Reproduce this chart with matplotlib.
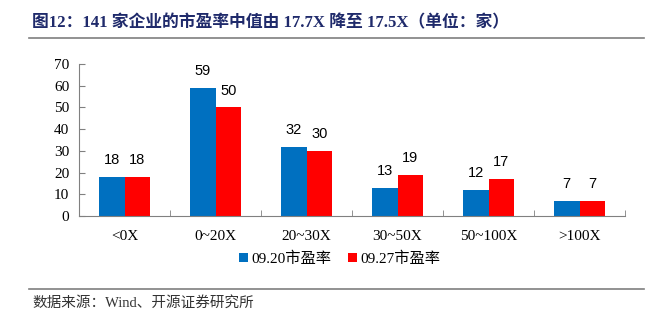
import matplotlib
matplotlib.use("Agg")
import matplotlib.pyplot as plt
import numpy as np
from matplotlib.lines import Line2D

categories = ["<0X", "0~20X", "20~30X", "30~50X", "50~100X", ">100X"]
pe_0920 = [18, 59, 32, 13, 12, 7]
pe_0927 = [18, 50, 30, 19, 17, 7]
series_names = ["09.20市盈率", "09.27市盈率"]
y_ticks = [0, 10, 20, 30, 40, 50, 60, 70]

SERIF = ["Liberation Serif", "Noto Sans CJK SC"]
SANS = ["Liberation Sans", "Noto Sans CJK SC"]
BLUE = "#0070C0"
RED = "#FF0000"
NAVY = "#1F2A6B"

W, H = 659, 322
fig = plt.figure(figsize=(W / 100, H / 100), dpi=100)

ax = fig.add_axes([79 / W, (H - 216) / H, 546 / W, 152 / H])
x = np.arange(len(categories))
bw = 0.285
b1 = ax.bar(x - bw / 2, pe_0920, width=bw, color=BLUE, label=series_names[0])
b2 = ax.bar(x + bw / 2, pe_0927, width=bw, color=RED, label=series_names[1])
for bars in (b1, b2):
    for rect in bars:
        ax.annotate(f"{int(rect.get_height())}", (rect.get_x() + rect.get_width() / 2, rect.get_height()),
                    xytext=(0, 7), textcoords="offset points", ha="center", va="bottom",
                    fontsize=10.5, family=SANS, color="black")

ax.set_xlim(-0.5, len(categories) - 0.5)
ax.set_ylim(0, 70)
ax.set_yticks(y_ticks)
ax.set_yticklabels([str(v) for v in y_ticks], family=SERIF, fontsize=11)
ax.set_xticks(x)
ax.set_xticklabels(categories, family=SERIF, fontsize=11)
ax.set_xticks(np.arange(len(categories) + 1) - 0.5, minor=True)
ax.tick_params(axis="x", which="major", length=0, pad=10)
ax.tick_params(axis="x", which="minor", length=4, direction="in", color="#808080")
ax.tick_params(axis="y", length=4, direction="in", color="#808080", pad=7)
for side in ("top", "right"):
    ax.spines[side].set_visible(False)
for side in ("left", "bottom"):
    ax.spines[side].set_color("#808080")

leg = fig.legend(handles=[b1, b2], loc="center", bbox_to_anchor=(340 / W, 1 - 259 / H), ncol=2,
                 frameon=False, prop={"family": SERIF, "size": 11}, handlelength=0.55, handleheight=0.55,
                 handletextpad=0.25, columnspacing=1.1)

fig.text(32 / W, 1 - 23 / H, "图12：141 家企业的市盈率中值由 17.7X 降至 17.5X（单位：家）",
         family=SERIF, fontsize=12.1, fontweight="bold", color=NAVY, va="center", ha="left")
fig.add_artist(Line2D([29 / W, 644 / W], [1 - 38 / H] * 2, color="#7F7F7F", lw=1.2))
fig.add_artist(Line2D([29 / W, 644 / W], [1 - 289 / H] * 2, color="#7F7F7F", lw=1.2))
fig.text(32 / W, 1 - 303 / H, "数据来源：Wind、开源证券研究所", family=SERIF, fontsize=10.5,
         color="#333333", va="center", ha="left")

fig.savefig("out.png", dpi=100)
